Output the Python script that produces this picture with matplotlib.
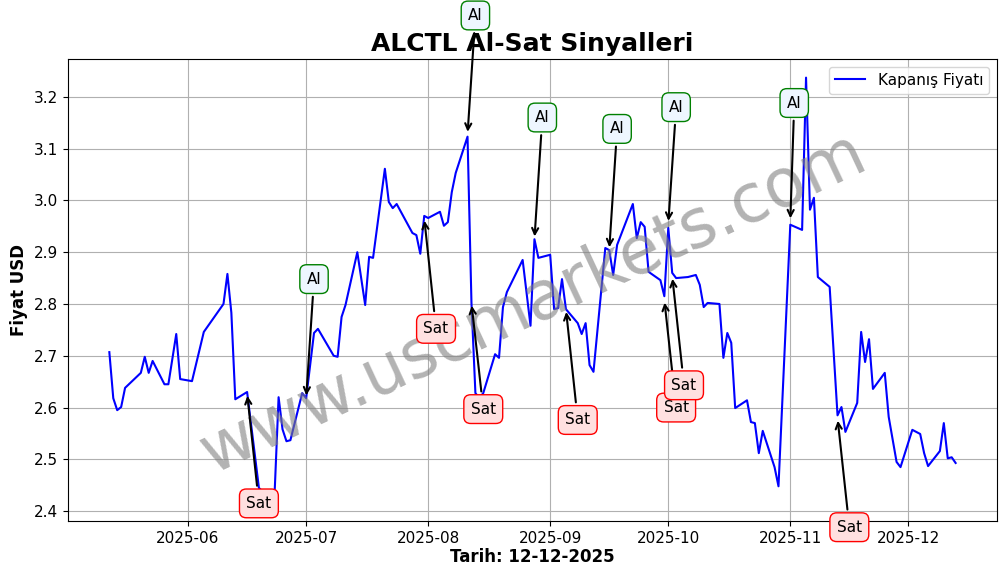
import matplotlib
matplotlib.use('Agg')
import matplotlib.pyplot as plt
import matplotlib.dates as mdates
import pandas as pd

# ── DATA ──────────────────────────────────────────────────────────────────────
dates = ['2025-05-12', '2025-05-13', '2025-05-14', '2025-05-15', '2025-05-16', '2025-05-20',
         '2025-05-21', '2025-05-22', '2025-05-23', '2025-05-26', '2025-05-27', '2025-05-29',
         '2025-05-30', '2025-06-02', '2025-06-05', '2025-06-10', '2025-06-11', '2025-06-12',
         '2025-06-13', '2025-06-16', '2025-06-19', '2025-06-20', '2025-06-23', '2025-06-24',
         '2025-06-25', '2025-06-26', '2025-06-27', '2025-06-30', '2025-07-01', '2025-07-03',
         '2025-07-04', '2025-07-08', '2025-07-09', '2025-07-10', '2025-07-11', '2025-07-14',
         '2025-07-16', '2025-07-17', '2025-07-18', '2025-07-21', '2025-07-22', '2025-07-23',
         '2025-07-24', '2025-07-28', '2025-07-29', '2025-07-30', '2025-07-31', '2025-08-01',
         '2025-08-04', '2025-08-05', '2025-08-06', '2025-08-07', '2025-08-08', '2025-08-11',
         '2025-08-12', '2025-08-13', '2025-08-14', '2025-08-15', '2025-08-18', '2025-08-19',
         '2025-08-20', '2025-08-21', '2025-08-25', '2025-08-27', '2025-08-28', '2025-08-29',
         '2025-09-01', '2025-09-02', '2025-09-03', '2025-09-04', '2025-09-05', '2025-09-08',
         '2025-09-09', '2025-09-10', '2025-09-11', '2025-09-12', '2025-09-15', '2025-09-16',
         '2025-09-17', '2025-09-18', '2025-09-22', '2025-09-23', '2025-09-24', '2025-09-25',
         '2025-09-26', '2025-09-29', '2025-09-30', '2025-10-01', '2025-10-02', '2025-10-03',
         '2025-10-06', '2025-10-08', '2025-10-09', '2025-10-10', '2025-10-11', '2025-10-14',
         '2025-10-15', '2025-10-16', '2025-10-17', '2025-10-18', '2025-10-21', '2025-10-22',
         '2025-10-23', '2025-10-24', '2025-10-25', '2025-10-28', '2025-10-29', '2025-11-01',
         '2025-11-04', '2025-11-05', '2025-11-06', '2025-11-07', '2025-11-08', '2025-11-11',
         '2025-11-13', '2025-11-14', '2025-11-15', '2025-11-18', '2025-11-19', '2025-11-20',
         '2025-11-21', '2025-11-22', '2025-11-25', '2025-11-26', '2025-11-28', '2025-11-29',
         '2025-12-02', '2025-12-04', '2025-12-05', '2025-12-06', '2025-12-09', '2025-12-10',
         '2025-12-11', '2025-12-12', '2025-12-13']
prices = [2.707, 2.618, 2.595, 2.601, 2.638, 2.667,
          2.698, 2.667, 2.690, 2.645, 2.645, 2.742,
          2.655, 2.651, 2.746, 2.800, 2.858, 2.783,
          2.616, 2.630, 2.445, 2.437, 2.437, 2.620,
          2.558, 2.535, 2.537, 2.628, 2.618, 2.744,
          2.752, 2.700, 2.698, 2.775, 2.798, 2.900,
          2.798, 2.891, 2.889, 3.061, 2.997, 2.985,
          2.993, 2.937, 2.933, 2.897, 2.970, 2.966,
          2.978, 2.951, 2.958, 3.016, 3.053, 3.123,
          2.802, 2.628, 2.618, 2.628, 2.703, 2.696,
          2.794, 2.823, 2.885, 2.758, 2.925, 2.889,
          2.895, 2.790, 2.792, 2.848, 2.790, 2.763,
          2.742, 2.763, 2.682, 2.669, 2.908, 2.904,
          2.856, 2.914, 2.993, 2.927, 2.958, 2.949,
          2.862, 2.846, 2.815, 2.947, 2.860, 2.850,
          2.852, 2.856, 2.837, 2.794, 2.802, 2.800,
          2.696, 2.744, 2.725, 2.599, 2.614, 2.572,
          2.570, 2.512, 2.555, 2.485, 2.448, 2.953,
          2.943, 3.237, 2.982, 3.005, 2.852, 2.833,
          2.585, 2.601, 2.553, 2.609, 2.746, 2.688,
          2.732, 2.636, 2.667, 2.582, 2.495, 2.485,
          2.557, 2.549, 2.512, 2.487, 2.516, 2.570,
          2.502, 2.504, 2.493]

# signals: label, arrow tip date/value, text date/value
sig_labels = ['Sat', 'Al', 'Sat', 'Al', 'Sat', 'Al', 'Sat', 'Al', 'Sat', 'Al', 'Sat', 'Al', 'Sat']
sig_dates = ['2025-06-16', '2025-07-01', '2025-07-31', '2025-08-11', '2025-08-12', '2025-08-28',
             '2025-09-05', '2025-09-16', '2025-09-30', '2025-10-01', '2025-10-02', '2025-11-01',
             '2025-11-13']
sig_values = [2.628, 2.618, 2.966, 3.127, 2.802, 2.925, 2.790, 2.904, 2.808, 2.955, 2.854, 2.960, 2.580]
txt_dates = ['2025-06-19', '2025-07-03', '2025-08-03', '2025-08-13', '2025-08-15', '2025-08-30',
             '2025-09-08', '2025-09-18', '2025-10-03', '2025-10-03', '2025-10-05', '2025-11-02',
             '2025-11-16']
txt_values = [2.415, 2.848, 2.752, 3.357, 2.597, 3.160, 2.576, 3.138, 2.600, 3.180, 2.643, 3.188, 2.369]

# ── PLOT ──────────────────────────────────────────────────────────────────────
fig = plt.figure(figsize=(10.06, 5.76), dpi=100)
ax = fig.add_axes([0.0676, 0.0955, 0.9234, 0.8021])

x = pd.to_datetime(dates)
ax.plot(x, prices, color='blue', linewidth=1.5, label='Kapanış Fiyatı')

for lab, d, v, td, tv in zip(sig_labels, sig_dates, sig_values, txt_dates, txt_values):
    if lab == 'Al':
        bbox = dict(boxstyle='round,pad=0.45', fc='#eef6ff', ec='green')
    else:
        bbox = dict(boxstyle='round,pad=0.45', fc='#ffe0e0', ec='red')
    ax.annotate(lab, xy=(pd.Timestamp(d), v), xytext=(pd.Timestamp(td), tv),
                ha='center', va='center', fontsize=11, bbox=bbox,
                arrowprops=dict(arrowstyle='->', color='black', lw=1.5),
                annotation_clip=False, zorder=5)

ax.text(0.5, 0.47, 'www.uscmarkets.com', transform=ax.transAxes, fontsize=48,
        color='gray', alpha=0.6, rotation=25, ha='center', va='center', zorder=4)

ax.set_xlim(pd.Timestamp('2025-05-01 12:00'), pd.Timestamp('2025-12-23 12:00'))
ax.set_ylim(2.381, 3.273)
ax.xaxis.set_major_locator(mdates.MonthLocator(bymonth=range(6, 13)))
ax.xaxis.set_major_formatter(mdates.DateFormatter('%Y-%m'))
ax.tick_params(labelsize=11)
ax.grid(True, color='#b0b0b0')
ax.set_title('ALCTL Al-Sat Sinyalleri', fontsize=18, fontweight='bold')
ax.set_xlabel('Tarih: 12-12-2025', fontsize=12, fontweight='bold', labelpad=2)
ax.set_ylabel('Fiyat USD', fontsize=12, fontweight='bold')
ax.legend(loc='upper right', fontsize=11)

plt.savefig('out.png', dpi=100)
